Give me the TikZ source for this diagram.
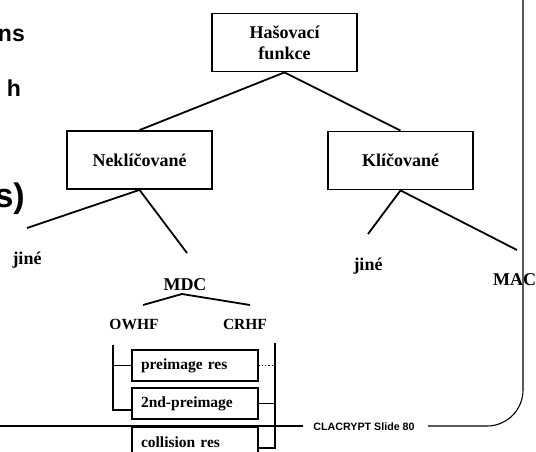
\documentclass[tikz,border=0pt]{standalone}
\usepackage{fontspec}
\setmainfont{Liberation Serif}
\newfontfamily\arialfont{Liberation Sans}
\begin{document}
\begin{tikzpicture}[x=1pt,y=-1pt,
  treebox/.style={draw, line width=1.8pt, fill=white, minimum width=145pt,
    minimum height=58pt, inner sep=0pt, align=center,
    font=\fontsize{18}{21}\selectfont\bfseries},
  smallbox/.style={draw, line width=1.6pt, fill=white, minimum width=126pt,
    minimum height=31pt, inner xsep=9pt, inner ysep=0pt, text width=108pt,
    align=left, font=\fontsize{15.5}{18}\selectfont\bfseries},
  lbl/.style={inner sep=0pt, anchor=base, font=\fontsize{18}{21}\selectfont\bfseries},
  sublbl/.style={inner sep=0pt, anchor=base, font=\fontsize{15.5}{18}\selectfont\bfseries},
  link/.style={line width=1.8pt},
  bar/.style={line width=1.6pt},
  frame/.style={line width=1.1pt},
  slidetext/.style={inner sep=0pt, anchor=base east, font=\arialfont\bfseries\fontsize{23}{27}\selectfont}]
\useasboundingbox (0,0) rectangle (536,451);
\clip (0,0) rectangle (536,451);

% slide frame
\coordinate (fl) at (0,426);
\coordinate (fm) at (303,426);
\coordinate (ft) at (523,0);
\coordinate (fc) at (523,426);
\coordinate (fe) at (428,426);
\draw[frame] (fl) -- (fm);
\draw[frame, rounded corners=36pt] (ft) -- (fc) -- (fe);
\node[inner sep=0pt, font=\arialfont\bfseries\fontsize{10.7}{12}\selectfont] (slide) at (364,427) {CLACRYPT Slide 80};

% slide text fragments at the left edge
\node[slidetext] (t1) at (25,41) {ns};
\node[slidetext] (t2) at (21,96) {h};
\node[slidetext, font=\arialfont\bfseries\fontsize{34}{40}\selectfont] (t3) at (25,207) {s)};

% tree of hash functions
\node[treebox] (hash) at (284.5,42.5) {Hašovací\\funkce};
\node[treebox] (nekl) at (139.5,160) {Neklíčované};
\node[treebox] (kl) at (400.5,160.5) {Klíčované};
\draw[link] (hash.south) -- (nekl.north);
\draw[link] (hash.south) -- (kl.north);

\coordinate (e1) at (27,228);
\coordinate (e2) at (187,253);
\coordinate (e3) at (368,234);
\coordinate (e4) at (517,250);
\draw[link] (nekl.south) -- (e1);
\draw[link] (nekl.south) -- (e2);
\draw[link] (kl.south) -- (e3);
\draw[link] (kl.south) -- (e4);

\node[lbl] (jine1) at (27,264) {jiné};
\node[lbl] (mdc) at (185,290) {MDC};
\node[lbl] (jine2) at (368,270) {jiné};
\node[lbl, anchor=base west] (mac) at (493,285) {MAC};

% MDC split
\coordinate (m0) at (182,294);
\coordinate (m1) at (143,305);
\coordinate (m2) at (250,305);
\draw[link] (m1) -- (m0) -- (m2);

\node[sublbl] (owhf) at (134,329) {OWHF};
\node[sublbl] (crhf) at (245,329) {CRHF};

% property boxes
\node[smallbox] (pre) at (195,365.5) {preimage res};
\node[smallbox] (sec) at (195,403.5) {2nd-preimage};
\node[smallbox] (col) at (195,442.5) {collision res};

% OWHF bracket
\coordinate (ow0) at (113,345);
\coordinate (ow1) at (113,410);
\coordinate (ow2) at (sec.west |- ow1);
\coordinate (owm) at (113,365.5);
\draw[bar] (ow0) -- (ow1) -- (ow2);
\draw[bar] (owm) -- (pre.west);

% CRHF bracket
\coordinate (cr0) at (275,343);
\coordinate (cr1) at (275,448);
\coordinate (cr2) at (col.east |- cr1);
\coordinate (crm) at (275,403.5);
\coordinate (crp) at (275,365.5);
\draw[bar] (cr0) -- (cr1) -- (cr2);
\draw[bar] (sec.east) -- (crm);
\draw[line width=1.2pt, dotted] (pre.east) -- (crp);
\end{tikzpicture}
\end{document}
